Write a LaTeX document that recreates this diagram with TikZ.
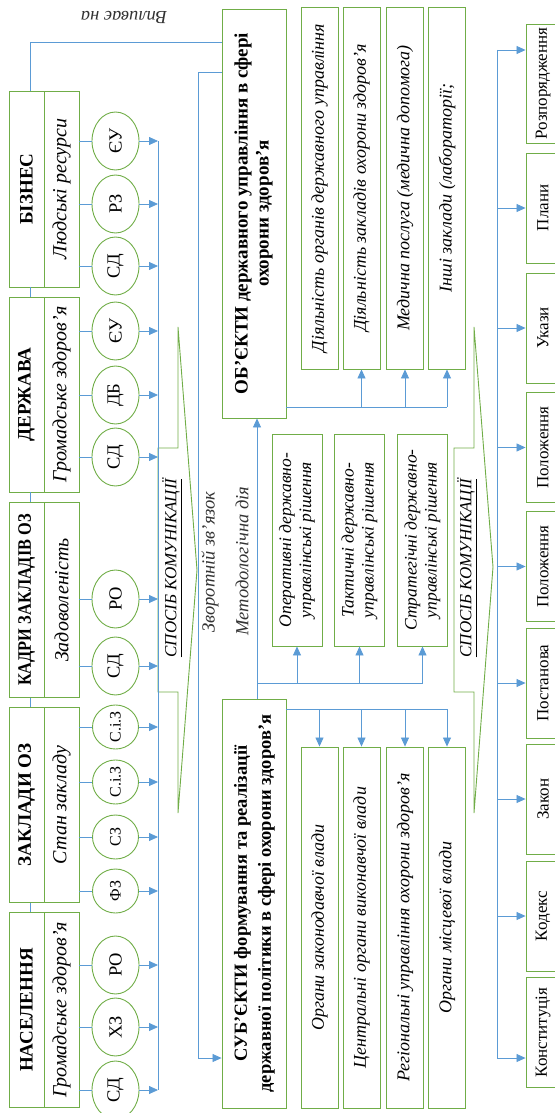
\documentclass[tikz,border=0pt]{standalone}
\usepackage{fontspec}
\setmainfont{Liberation Serif}
\usepackage{graphicx}
\usetikzlibrary{shapes.geometric,arrows.meta}

\definecolor{boxgreen}{RGB}{112,173,71}
\definecolor{linkblue}{RGB}{91,155,213}
\newcommand{\vup}[1]{\rotatebox{90}{#1}}
\newcommand{\vtwo}[2]{\rotatebox{90}{\begin{tabular}{@{}c@{}}#1\\#2\end{tabular}}}

\tikzset{
  cell/.style={draw=boxgreen, line width=0.9pt, inner sep=0pt},
  grouptitle/.style={cell, minimum width=35pt, minimum height=195pt, font=\fontsize{19}{21}\selectfont\bfseries},
  groupsub/.style={cell, minimum width=35pt, minimum height=195pt, font=\fontsize{20}{21}\selectfont\itshape},
  oval/.style={ellipse, draw=boxgreen, line width=0.9pt, minimum width=47pt, minimum height=58pt, inner sep=0pt, font=\fontsize{18.5}{20}\selectfont},
  small oval/.style={oval, minimum width=46pt, minimum height=44pt, font=\fontsize{16}{18}\selectfont},
  main/.style={cell, minimum width=64pt, minimum height=409pt, font=\fontsize{18.5}{24}\selectfont\bfseries},
  item/.style={cell, minimum width=37pt, minimum height=361pt, font=\fontsize{18}{20}\selectfont\itshape},
  decision/.style={cell, minimum width=50pt, minimum height=212pt, font=\fontsize{17.5}{20}\selectfont\itshape},
  doc/.style={cell, minimum width=34pt, minimum height=110pt, font=\fontsize{17}{19}\selectfont},
  note/.style={inner sep=0pt, text=black!80, font=\fontsize{18.5}{20}\selectfont\itshape},
  comm/.style={draw=boxgreen, line width=0.9pt},
  link/.style={draw=linkblue, line width=0.8pt},
  arr/.style={link, -{Triangle[length=9pt,width=8pt]}},
}

\begin{document}
\begin{tikzpicture}[x=1pt, y=-1pt]
\useasboundingbox (0,0) rectangle (554,1113);

\node[grouptitle, minimum height=196pt] (biz) at (26.5,189) {\vup{БІЗНЕС}};
\node[groupsub, minimum height=196pt] (bizsub) at (61.5,189) {\vup{Людські ресурси}};
\node[grouptitle] (state) at (26.5,394.5) {\vup{ДЕРЖАВА}};
\node[groupsub] (statesub) at (61.5,394.5) {\vup{Громадське здоров’я}};
\node[grouptitle] (staff) at (26.5,600) {\vup{\scalebox{0.86}[1]{КАДРИ ЗАКЛАДІВ ОЗ}}};
\node[groupsub] (staffsub) at (61.5,600) {\vup{Задоволеність}};
\node[grouptitle] (inst) at (26.5,805) {\vup{ЗАКЛАДИ ОЗ}};
\node[groupsub] (instsub) at (61.5,805) {\vup{Стан закладу}};
\node[grouptitle] (pop) at (26.5,1010) {\vup{НАСЕЛЕННЯ}};
\node[groupsub] (popsub) at (61.5,1010) {\vup{Громадське здоров’я}};

\node[oval] (b1) at (115.5,141) {\vup{ЄУ}};
\node[oval] (b2) at (115.5,204) {\vup{РЗ}};
\node[oval] (b3) at (115.5,266) {\vup{СД}};
\node[oval] (s1) at (115.5,331) {\vup{ЄУ}};
\node[oval] (s2) at (115.5,395) {\vup{ДБ}};
\node[oval] (s3) at (115.5,457) {\vup{СД}};
\node[oval] (k1) at (115.5,599) {\vup{РО}};
\node[oval] (k2) at (115.5,666) {\vup{СД}};
\node[small oval] (z1) at (115.5,727) {\vup{С.і.З}};
\node[small oval] (z2) at (115.5,782) {\vup{С.і.З}};
\node[small oval] (z3) at (115.5,837) {\vup{СЗ}};
\node[small oval] (z4) at (115.5,891) {\vup{ФЗ}};
\node[oval] (p1) at (115.5,965) {\vup{РО}};
\node[oval] (p2) at (115.5,1027) {\vup{ХЗ}};
\node[oval] (p3) at (115.5,1090) {\vup{СД}};

\node[main, font=\fontsize{19}{21}\selectfont\bfseries] (obj) at (254,213.5)
  {\vtwo{ОБ’ЄКТИ державного управління в сфері}{охорони здоров’я}};
\node[item, minimum height=362pt] (o1) at (319.5,188) {\vup{Діяльність органів державного управління}};
\node[item, minimum height=362pt] (o2) at (361.5,188) {\vup{Діяльність закладів охорони здоров’я}};
\node[item, minimum height=362pt] (o3) at (405,188) {\vup{Медична послуга (медична допомога)}};
\node[item, minimum height=362pt] (o4) at (447,188) {\vup{Інші заклади (лабораторії;}};

\node[decision] (d1) at (297,540) {\vtwo{Оперативні державно-}{управлінські рішення}};
\node[decision] (d2) at (359.5,540) {\vtwo{Тактичні державно-}{управлінські рішення}};
\node[decision] (d3) at (422.5,540) {\vtwo{Стратегічні державно-}{управлінські рішення}};

\node[main] (subj) at (254,903.5)
  {\vtwo{СУБ’ЄКТИ формування та реалізації}{державної політики в сфері охорони здоров’я}};
\node[item] (u1) at (319.5,927.5) {\vup{Органи законодавчої влади}};
\node[item] (u2) at (361.5,927.5) {\vup{Центральні органи виконавчої влади}};
\node[item] (u3) at (405,927.5) {\vup{Регіональні управління охорони здоров’я}};
\node[item] (u4) at (447,927.5) {\vup{Органи місцевої влади}};

\node[doc, minimum height=119pt] (r1) at (543,83.5) {\vup{Розпорядження}};
\node[doc] (r2) at (543,208) {\vup{Плани}};
\node[doc] (r3) at (543,328) {\vup{Укази}};
\node[doc] (r4) at (543,447.5) {\vup{Положення}};
\node[doc] (r5) at (543,566.5) {\vup{Положення}};
\node[doc] (r6) at (543,683) {\vup{Постанова}};
\node[doc] (r7) at (543,799) {\vup{Закон}};
\node[doc] (r8) at (543,916) {\vup{Кодекс}};
\node[doc] (r9) at (543,1032.5) {\vup{Конституція}};

\draw[comm] (158,448) -- (178,448) -- (178,327) -- (197,570) -- (178,813) -- (178,692) -- (158,692) -- cycle;
\draw[comm] (454,448) -- (474,448) -- (474,327) -- (493,567) -- (474,813) -- (474,692) -- (454,692) -- cycle;
\node[note, text=black, font=\fontsize{17}{20}\selectfont\itshape] (comm1) at (172,568) {\vup{\underline{СПОСІБ КОМУНІКАЦІЇ}}};
\node[note, text=black, font=\fontsize{17}{20}\selectfont\itshape] (comm2) at (467,568) {\vup{\underline{СПОСІБ КОМУНІКАЦІЇ}}};

\node[note] (fblabel) at (210,562) {\vup{Зворотній зв’язок}};
\node[note] (mlabel) at (242,561) {\vup{Методологічна дія}};
\node[note, rotate=180] (infl) at (124,17) {Впливає на};

\coordinate (busL) at (158,0);
\coordinate (busR) at (497,50);
\coordinate (busRend) at (497,1058);
\coordinate (fb) at (198,72);
\coordinate (meth) at (257,683);

\draw[link] (biz.south -| 30,0) -- (state.north -| 30,0);
\draw[link] (state.south -| 30,0) -- (staff.north -| 30,0);
\draw[link] (staff.south -| 30,0) -- (inst.north -| 30,0);
\draw[link] (inst.south -| 30,0) -- (pop.north -| 30,0);
\draw[link] (biz.north -| 30,0) |- (obj.west |- 0,42);

\draw[link] (b1.east -| busL) -- (p3.east -| busL);
\foreach \e/\g in {b1/bizsub,b2/bizsub,b3/bizsub,s1/statesub,s2/statesub,s3/statesub,
  k1/staffsub,k2/staffsub,z1/instsub,z2/instsub,z3/instsub,z4/instsub,p1/popsub,p2/popsub,p3/popsub}{
  \draw[link] (\g.east |- \e.west) -- (\e.west);
  \draw[arr] (\e.east) -- (\e.east -| busL);
}

\draw[arr] (obj.west |- fb) -- (fb) |- (subj.west |- 0,1058);

\draw[arr] (subj.north -| meth) -- (obj.south -| meth);
\draw[link] (meth) -- (meth -| d3.south);
\foreach \d in {d1,d2,d3}
  \draw[arr] (\d.south |- meth) -- (\d.south);

\draw[link] (obj.east |- 0,407) -- (o4.south |- 0,407);
\foreach \o in {o2,o3,o4}
  \draw[arr] (\o.south |- 0,407) -- (\o.south);

\draw[link] (subj.east |- 0,709) -- (u4.north |- 0,709);
\foreach \u in {u1,u2,u3,u4}
  \draw[arr] (\u.north |- 0,709) -- (\u.north);

\draw[link] (busR) -- (busRend);
\draw[arr] (busR) -- (busR -| r1.west);
\foreach \r in {r2,r3,r4,r5,r6,r7,r8}
  \draw[arr] (\r.west -| busR) -- (\r.west);
\draw[arr] (busRend) -- (busRend -| r9.west);
\end{tikzpicture}
\end{document}
